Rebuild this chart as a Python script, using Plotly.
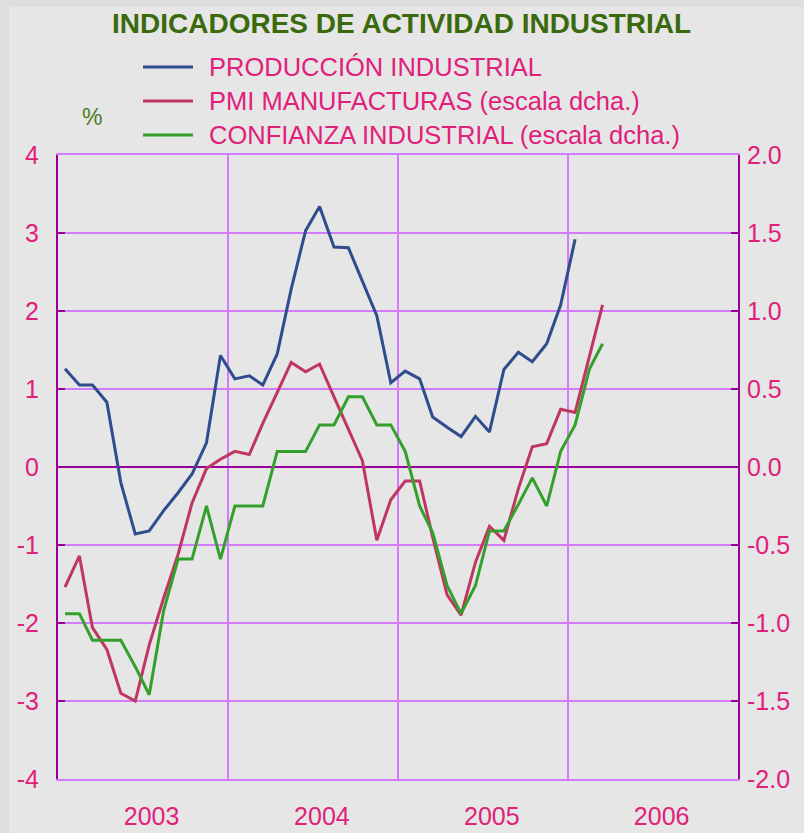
import plotly.graph_objects as go
import pandas as pd

# Monthly observations, Jan 2003 onward (mid-month positions)
produccion = [1.26, 1.05, 1.05, 0.83, -0.20, -0.86, -0.82, -0.56, -0.33, -0.09, 0.31, 1.43,
              1.13, 1.17, 1.05, 1.45, 2.28, 3.03, 3.34, 2.82, 2.81, 2.37, 1.94, 1.08,
              1.23, 1.13, 0.64, 0.51, 0.39, 0.65, 0.45, 1.25, 1.47, 1.35, 1.58, 2.08,
              2.92]
pmi = [-0.77, -0.57, -1.03, -1.17, -1.45, -1.50, -1.14, -0.84, -0.56, -0.23, -0.01, 0.05,
       0.10, 0.08, 0.28, 0.48, 0.67, 0.61, 0.66, 0.45, 0.24, 0.04, -0.47, -0.21,
       -0.09, -0.09, -0.45, -0.82, -0.95, -0.61, -0.38, -0.47, -0.14, 0.13, 0.15, 0.37,
       0.35, 0.71, 1.04]
confianza = [-0.94, -0.94, -1.11, -1.11, -1.11, -1.28, -1.46, -0.92, -0.59, -0.59, -0.25, -0.59,
             -0.25, -0.25, -0.25, 0.10, 0.10, 0.10, 0.27, 0.27, 0.45, 0.45, 0.27, 0.27,
             0.10, -0.25, -0.42, -0.76, -0.94, -0.76, -0.41, -0.41, -0.24, -0.07, -0.25, 0.10,
             0.27, 0.63, 0.79]

months = pd.date_range("2003-01-01", periods=40, freq="MS") + pd.Timedelta(days=15)
x_prod = months[:len(produccion)]
x_pmi = months[:len(pmi)]
x_conf = months[:len(confianza)]

series_names = ["PRODUCCIÓN INDUSTRIAL", "PMI MANUFACTURAS (escala dcha.)",
                "CONFIANZA INDUSTRIAL (escala dcha.)"]
year_labels = ["2003", "2004", "2005", "2006"]
year_label_pos = [f"{y}-07-21" for y in year_labels]
year_starts = ["2003-01-01", "2004-01-01", "2005-01-01", "2006-01-01", "2007-01-01"]
left_ticks = [-4, -3, -2, -1, 0, 1, 2, 3, 4]
left_labels = ["-4", "-3", "-2", "-1", "0", "1", "2", "3", "4"]
right_ticks = [-2.0, -1.5, -1.0, -0.5, 0.0, 0.5, 1.0, 1.5, 2.0]
right_labels = ["-2.0", "-1.5", "-1.0", "-0.5", "0.0", "0.5", "1.0", "1.5", "2.0"]

BLUE = "#2f4c8e"
RED = "#c03660"
GREEN = "#33a02c"
PINK = "#e0207a"
GRID = "#d27bff"
AXIS = "#990099"
FONT = "Liberation Sans, Arial, sans-serif"

fig = go.Figure()
fig.add_trace(go.Scatter(x=x_prod, y=produccion, mode="lines", name=series_names[0],
                         line=dict(color=BLUE, width=3), yaxis="y"))
fig.add_trace(go.Scatter(x=x_pmi, y=pmi, mode="lines", name=series_names[1],
                         line=dict(color=RED, width=3), yaxis="y2"))
fig.add_trace(go.Scatter(x=x_conf, y=confianza, mode="lines", name=series_names[2],
                         line=dict(color=GREEN, width=3), yaxis="y2"))

L, R, T, B = 58, 66, 155, 54
W, H = 804, 833
pw, ph = W - L - R, H - T - B

def px(xp):
    return (xp - L) / pw

def py(yp):
    return (H - B - yp) / ph

shapes = [
    dict(type="rect", xref="paper", yref="paper", x0=px(9), x1=px(W + 5), y0=py(H + 5), y1=py(7),
         fillcolor="#e6e6e6", line=dict(width=0), layer="below"),
]
annotations = [
    dict(text="<b>INDICADORES DE ACTIVIDAD INDUSTRIAL</b>", xref="paper", yref="paper",
         x=px(401), y=py(23), xanchor="center", yanchor="middle", showarrow=False,
         font=dict(family=FONT, size=28, color="#3a6a0c")),
    dict(text="%", xref="paper", yref="paper", x=px(92), y=py(117), xanchor="center",
         yanchor="middle", showarrow=False, font=dict(family=FONT, size=23, color="#4b7d1e")),
]
leg_rows = [67, 101, 135]
for name, col, yr in zip(series_names, [BLUE, RED, GREEN], leg_rows):
    shapes.append(dict(type="line", xref="paper", yref="paper", x0=px(143), x1=px(193),
                       y0=py(yr), y1=py(yr), line=dict(color=col, width=3)))
    annotations.append(dict(text=name, xref="paper", yref="paper", x=px(207), y=py(yr),
                            xanchor="left", yanchor="middle", showarrow=False,
                            font=dict(family=FONT, size=25.5, color=PINK)))

fig.update_layout(
    width=W, height=H, autosize=False,
    margin=dict(l=L, r=R, t=T, b=B, pad=0),
    paper_bgcolor="#dedede", plot_bgcolor="rgba(0,0,0,0)",
    showlegend=False,
    shapes=shapes, annotations=annotations,
    font=dict(family=FONT, color=PINK),
    xaxis=dict(type="date", range=["2003-01-01", "2007-01-01"], automargin=False,
               tickmode="array", tickvals=year_label_pos, ticktext=year_labels,
               showgrid=False,
               minor=dict(tickmode="array", tickvals=year_starts, showgrid=True,
                          gridcolor=GRID, gridwidth=1.5, ticks=""),
               showline=True, linecolor=GRID, linewidth=2, mirror=True,
               ticks="", tickfont=dict(size=25, color=PINK), ticklabelstandoff=14),
    yaxis=dict(range=[-4, 4], tickvals=left_ticks, ticktext=left_labels, automargin=False,
               showgrid=True, gridcolor=GRID, gridwidth=1.5,
               zeroline=True, zerolinecolor=AXIS, zerolinewidth=2,
               showline=True, linecolor=AXIS, linewidth=2,
               ticks="inside", ticklen=7, tickcolor=AXIS, tickwidth=2,
               tickfont=dict(size=25, color=PINK), ticklabelstandoff=12),
    yaxis2=dict(range=[-2, 2], tickvals=right_ticks, ticktext=right_labels, overlaying="y",
                side="right", showgrid=False, zeroline=False, automargin=False,
                showline=True, linecolor=AXIS, linewidth=2,
                ticks="inside", ticklen=7, tickcolor=AXIS, tickwidth=2,
                tickfont=dict(size=25, color=PINK), ticklabelstandoff=2),
)

fig.write_html("out.html", config={"displayModeBar": False},
               post_script="document.body.style.margin='0';document.body.style.padding='0';"
                           "document.body.style.overflow='hidden';")
